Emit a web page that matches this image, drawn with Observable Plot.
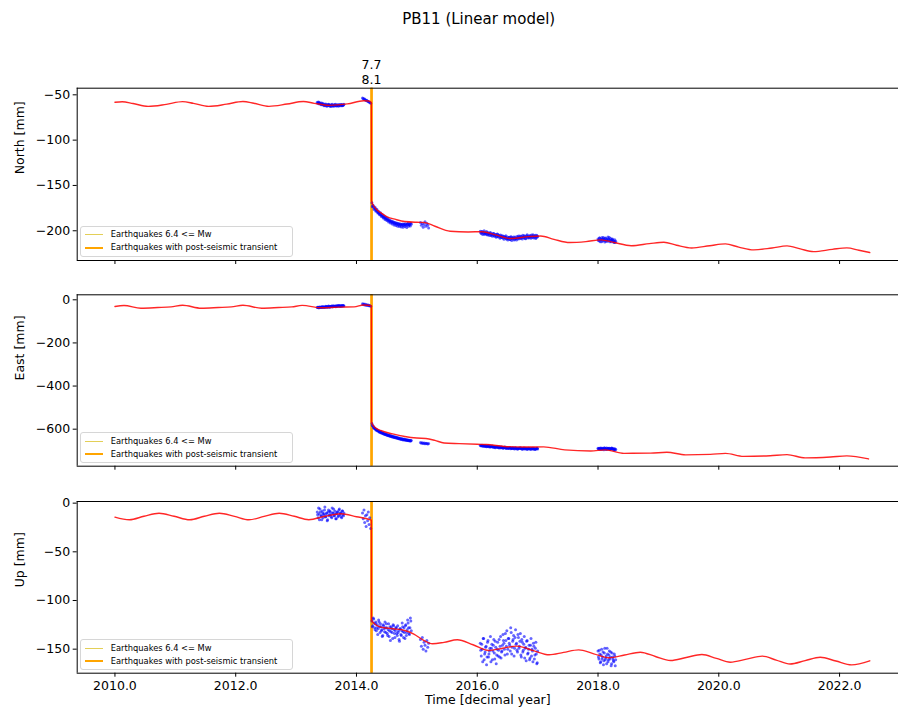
<!DOCTYPE html>
<html>
<head>
<meta charset="utf-8">
<script src="https://cdn.jsdelivr.net/npm/d3@7"></script>
<script src="https://cdn.jsdelivr.net/npm/@observablehq/plot@0.6"></script>
<style>
html, body { margin: 0; padding: 0; background: #fff; overflow: hidden; }
#fig { position: relative; width: 898px; height: 715px; font-family: "DejaVu Sans", sans-serif; color: #000; overflow: hidden; }
.panel { position: absolute; left: 0; width: 898px; overflow: hidden; }
.title { position: absolute; left: 378.7px; width: 200px; text-align: center; top: 9px; font-size: 15px; line-height: 20px; white-space: nowrap; }
.legend { position: absolute; left: 80.3px; width: 211px; height: 29px; border: 1px solid #d6d6d6; border-radius: 3px; background: rgba(255,255,255,0.8); font-size: 8.3px; }
.legend .sw { position: absolute; left: 4px; width: 17.5px; height: 0; }
.legend .lb { position: absolute; left: 29.5px; white-space: nowrap; line-height: 10px; }
</style>
</head>
<body>
<div id="fig"></div>
<script>
// ---------- data ----------
const xTicks = [2010, 2012, 2014, 2016, 2018, 2020, 2022];
const eqTimes = [2014.247, 2014.252];
const eqMagnitudes = ["7.7", "8.1"];
const legendLabels = ["Earthquakes 6.4 <= Mw", "Earthquakes with post-seismic transient"];
const panelLabels = ["North [mm]", "East [mm]", "Up [mm]"];
const xLabel = "Time [decimal year]";
const titleText = "PB11 (Linear model)";
const northTicks = [-200, -150, -100, -50];
const eastTicks = [-600, -400, -200, 0];
const upTicks = [-150, -100, -50, 0];

// model (red line)
const northModelTime = [2010.0, 2010.12, 2010.3, 2010.55, 2010.85, 2011.12, 2011.3, 2011.55, 2011.85, 2012.12, 2012.3, 2012.55, 2012.85, 2013.12, 2013.3, 2013.55, 2013.85, 2014.12, 2014.2, 2014.246,
  2014.248, 2014.3, 2014.4, 2014.5, 2014.65, 2014.8, 2015.0, 2015.12, 2015.3, 2015.55, 2015.85, 2016.08, 2016.3, 2016.55, 2016.85, 2017.05, 2017.27, 2017.53, 2017.8, 2018.05, 2018.27, 2018.55, 2018.85, 2019.09, 2019.3, 2019.55, 2019.85, 2020.11, 2020.33, 2020.58, 2020.88, 2021.13, 2021.35, 2021.57, 2021.88, 2022.12, 2022.32, 2022.5];
const northModel = [-58.2, -57.6, -59.6, -62.8, -60.5, -57.5, -59.4, -62.8, -60.3, -57.4, -59.3, -62.7, -60.2, -57.4, -59.4, -61.6, -60.0, -56.6, -56.8, -58.5,
  -167, -174, -180, -184.3, -187.5, -189.8, -190.6, -190.8, -195, -200.5, -201.3, -201, -204.5, -208.5, -206.5, -205.8, -209.5, -213, -212, -210, -213, -216.5, -214.2, -212.6, -216, -219, -216.5, -214.5, -218, -221.1, -219, -216.7, -220, -223, -220.5, -218.9, -221.5, -224];

const eastModelTime = [2010.0, 2010.15, 2010.43, 2010.71, 2010.93, 2011.12, 2011.43, 2011.71, 2011.93, 2012.12, 2012.43, 2012.71, 2012.93, 2013.1, 2013.42, 2013.7, 2013.96, 2014.12, 2014.246,
  2014.248, 2014.3, 2014.4, 2014.6, 2014.8, 2015.0, 2015.15, 2015.3, 2015.45, 2015.7, 2016.0, 2016.15, 2016.45, 2016.75, 2017.1, 2017.45, 2017.88, 2018.12, 2018.43, 2018.87, 2019.14, 2019.45, 2019.86, 2020.11, 2020.41, 2020.85, 2021.13, 2021.43, 2021.85, 2022.12, 2022.48];
const eastModel = [-31, -26.5, -39, -36, -32.6, -25, -39, -36, -33, -25, -39, -36, -33, -26, -37, -34, -33, -24, -27,
  -568, -590, -606, -622, -634, -641, -643, -652, -664, -667, -670, -671, -680, -683, -682, -696, -701, -696, -712, -711, -707, -719, -717, -712, -726, -723, -718, -733, -729, -724, -738];

const upModelTime = [2010.0, 2010.24, 2010.48, 2010.73, 2010.98, 2011.24, 2011.48, 2011.73, 2011.98, 2012.22, 2012.47, 2012.72, 2012.97, 2013.21, 2013.48, 2013.74, 2014.0, 2014.246,
  2014.248, 2014.4, 2014.6, 2014.8, 2014.95, 2015.1, 2015.26, 2015.45, 2015.67, 2015.93, 2016.19, 2016.42, 2016.66, 2016.93, 2017.19, 2017.43, 2017.68, 2017.93, 2018.18, 2018.44, 2018.7, 2018.95, 2019.2, 2019.46, 2019.72, 2019.96, 2020.19, 2020.46, 2020.72, 2020.95, 2021.18, 2021.43, 2021.68, 2021.94, 2022.2, 2022.5];
const upModel = [-14.4, -17.1, -13.5, -10.3, -13.5, -17.1, -13.5, -10.3, -13.6, -17.1, -13.6, -10.3, -13.5, -17, -13.5, -10.9, -14, -17.5,
  -120.5, -127.4, -129, -130.8, -134.5, -140.5, -144.5, -143, -140.4, -145.5, -151.4, -149, -146.9, -151.5, -155.8, -153.3, -150.7, -154.8, -158.9, -156, -153.1, -157.5, -161.7, -158.6, -155.5, -159.5, -163.4, -160.3, -157.2, -161.2, -165.3, -161.8, -158.3, -162.2, -166.1, -162];

// observations (blue dots), first pass of epochs
const obsTime = [
  2013.35, 2013.365, 2013.38, 2013.395, 2013.41, 2013.425, 2013.44, 2013.455, 2013.47, 2013.485, 2013.50, 2013.515, 2013.53, 2013.545, 2013.56, 2013.575, 2013.59, 2013.605, 2013.62, 2013.635, 2013.65, 2013.665, 2013.68, 2013.695, 2013.71, 2013.725, 2013.74, 2013.755, 2013.77, 2013.785,
  2014.10, 2014.112, 2014.124, 2014.136, 2014.148, 2014.16, 2014.172, 2014.184, 2014.196, 2014.208, 2014.22, 2014.235,
  2014.255, 2014.27, 2014.285, 2014.30, 2014.315, 2014.33, 2014.345, 2014.36, 2014.375, 2014.39, 2014.405, 2014.42, 2014.435, 2014.45, 2014.465, 2014.48, 2014.495, 2014.51, 2014.525, 2014.54, 2014.555, 2014.57, 2014.585, 2014.60, 2014.615, 2014.63, 2014.645, 2014.66, 2014.675, 2014.69, 2014.705, 2014.72, 2014.735, 2014.75, 2014.765, 2014.78, 2014.795, 2014.81, 2014.825, 2014.84, 2014.855, 2014.87, 2014.885, 2014.90,
  2015.06, 2015.075, 2015.09, 2015.105, 2015.12, 2015.135, 2015.15, 2015.165, 2015.18, 2015.195,
  2016.05, 2016.066, 2016.082, 2016.098, 2016.114, 2016.13, 2016.146, 2016.162, 2016.178, 2016.194, 2016.21, 2016.226, 2016.242, 2016.258, 2016.274, 2016.29, 2016.306, 2016.322, 2016.338, 2016.354, 2016.37, 2016.386, 2016.402, 2016.418, 2016.434, 2016.45, 2016.466, 2016.482, 2016.498, 2016.514, 2016.53, 2016.546, 2016.562, 2016.578, 2016.594, 2016.61, 2016.626, 2016.642, 2016.658, 2016.674, 2016.69, 2016.706, 2016.722, 2016.738, 2016.754, 2016.77, 2016.786, 2016.802, 2016.818, 2016.834, 2016.85, 2016.866, 2016.882, 2016.898, 2016.914, 2016.93, 2016.946, 2016.962, 2016.978, 2016.994,
  2018.00, 2018.015, 2018.03, 2018.045, 2018.06, 2018.075, 2018.09, 2018.105, 2018.12, 2018.135, 2018.15, 2018.165, 2018.18, 2018.195, 2018.21, 2018.225, 2018.24, 2018.255, 2018.27, 2018.285];
const obsNorth = [
  -58.1, -59.0, -58.4, -59.6, -60.2, -59.1, -60.8, -61.3, -60.5, -61.9, -60.9, -62.2, -61.4, -60.7, -62.5, -61.6, -61.0, -62.3, -61.7, -60.6, -61.8, -62.4, -61.2, -60.9, -61.9, -61.3, -62.1, -60.8, -61.5, -61.0,
  -53.5, -54.2, -55.0, -54.6, -55.8, -56.3, -56.0, -57.1, -57.5, -58.0, -58.6, -59.2,
  -169, -172, -174, -175.5, -176.2, -178, -178.4, -180, -180.6, -181.9, -182.3, -183.5, -183.9, -185.2, -185.4, -186.8, -186.5, -188, -187.9, -189.3, -189, -190.4, -189.8, -191.2, -190.5, -192.1, -191.3, -192.8, -191.9, -193.4, -192.5, -194, -192.7, -193.8, -192.4, -194.3, -193, -192.2, -193.9, -192.6, -191.8, -193.5, -192.3, -191.7,
  -191, -194, -192, -196, -193, -190, -195, -192, -194, -197,
  -200.5, -203.0, -201.2, -202.8, -199.9, -203.5, -202.1, -204.0, -201.8, -203.6, -202.5, -205.1, -203.3, -204.6, -202.9, -205.8, -204.1, -206.2, -203.8, -205.5, -206.9, -204.7, -207.3, -205.6, -208.1, -206.2, -207.7, -209.0, -206.8, -208.4, -207.2, -209.5, -206.5, -208.8, -207.9, -210.1, -207.0, -208.6, -206.3, -209.2, -207.5, -205.9, -208.3, -206.8, -204.9, -207.8, -206.0, -208.9, -205.4, -207.1, -205.8, -207.6, -206.2, -204.8, -207.3, -205.5, -206.9, -205.0, -207.4, -206.1,
  -209, -211, -208, -210, -212, -209, -207.5, -210.5, -208.5, -211.5, -209.5, -207, -210, -212, -208.5, -210.5, -209, -211, -212.5, -213];
const obsEast = [
  -36, -34, -37, -35, -33, -36, -34, -32, -35, -33, -31, -34, -32, -30, -33, -31, -29, -32, -30, -31, -29, -31, -28, -30, -27, -29, -28, -30, -27, -29,
  -18, -22, -20, -24, -21, -25, -23, -26, -24, -28, -26, -30,
  -574, -585, -592, -597, -600, -604, -606, -609, -611, -614, -615, -618, -619, -621, -623, -624, -626, -627, -629, -630, -631, -633, -634, -635, -636, -637, -639, -639, -641, -642, -643, -644, -645, -646, -647, -648, -648, -649, -650, -651, -651, -652, -653, -653,
  -662, -665, -663, -667, -664, -668, -665, -666, -669, -667,
  -674, -677, -675, -678, -676, -679, -677, -680, -678, -681, -679, -682, -680, -683, -681, -684, -682, -683, -685, -682, -684, -686, -683, -685, -687, -684, -686, -688, -685, -687, -689, -686, -688, -690, -687, -689, -686, -690, -688, -691, -689, -687, -690, -688, -692, -689, -691, -688, -690, -692, -689, -691, -693, -690, -688, -692, -690, -693, -691, -689,
  -688, -692, -690, -687, -693, -689, -691, -686, -690, -694, -688, -691, -689, -693, -690, -687, -692, -690, -694, -696];
const obsUp = [
  -9, -15, -11, -6, -13, -17, -10, -12, -7, -14, -11, -18, -9, -13, -8, -12, -15, -10, -6, -13, -11, -16, -9, -14, -7, -12, -10, -15, -8, -13,
  -10, -16, -7, -20, -13, -24, -12, -18, -9, -22, -15, -26,
  -121, -126, -119, -128, -124, -131, -125, -129, -122, -133, -127, -130, -136, -126, -132, -128, -124, -134, -130, -137, -127, -132, -129, -139, -126, -134, -131, -128, -136, -133, -140, -129, -135, -131, -127, -138, -133, -126, -136, -130, -123, -134, -128, -121,
  -140, -147, -138, -150, -143, -146, -152, -141, -148, -144,
  -144, -157, -150, -139, -161, -153, -147, -158, -141, -155, -149, -163, -145, -152, -140, -160, -148, -156, -143, -151, -158, -137, -153, -146, -141, -150, -134, -147, -155, -139, -144, -152, -133, -148, -140, -157, -138, -145, -151, -135, -149, -142, -156, -140, -153, -145, -159, -148, -142, -155, -150, -161, -146, -157, -152, -144, -160, -149, -155, -164,
  -152, -160, -155, -163, -150, -158, -166, -154, -161, -157, -149, -163, -156, -160, -153, -165, -158, -162, -155, -167];

// observations, second pass of epochs
const obsTime2 = [
  2013.357, 2013.372, 2013.387, 2013.402, 2013.417, 2013.432, 2013.447, 2013.462, 2013.477, 2013.492, 2013.507, 2013.522, 2013.537, 2013.552, 2013.567, 2013.582, 2013.597, 2013.612, 2013.627, 2013.642, 2013.657, 2013.672, 2013.687, 2013.702, 2013.717, 2013.732, 2013.747, 2013.762, 2013.777, 2013.792,
  2014.262, 2014.277, 2014.292, 2014.307, 2014.322, 2014.337, 2014.352, 2014.367, 2014.382, 2014.397, 2014.412, 2014.427, 2014.442, 2014.457, 2014.472, 2014.487, 2014.502, 2014.517, 2014.532, 2014.547, 2014.562, 2014.577, 2014.592, 2014.607, 2014.622, 2014.637, 2014.652, 2014.667, 2014.682, 2014.697, 2014.712, 2014.727, 2014.742, 2014.757, 2014.772, 2014.787, 2014.802, 2014.817, 2014.832, 2014.847, 2014.862, 2014.877, 2014.892, 2014.907,
  2016.058, 2016.074, 2016.09, 2016.106, 2016.122, 2016.138, 2016.154, 2016.17, 2016.186, 2016.202, 2016.218, 2016.234, 2016.25, 2016.266, 2016.282, 2016.298, 2016.314, 2016.33, 2016.346, 2016.362, 2016.378, 2016.394, 2016.41, 2016.426, 2016.442, 2016.458, 2016.474, 2016.49, 2016.506, 2016.522, 2016.538, 2016.554, 2016.57, 2016.586, 2016.602, 2016.618, 2016.634, 2016.65, 2016.666, 2016.682, 2016.698, 2016.714, 2016.73, 2016.746, 2016.762, 2016.778, 2016.794, 2016.81, 2016.826, 2016.842, 2016.858, 2016.874, 2016.89, 2016.906, 2016.922, 2016.938, 2016.954, 2016.97, 2016.986, 2017.0,
  2018.007, 2018.022, 2018.037, 2018.052, 2018.067, 2018.082, 2018.097, 2018.112, 2018.127, 2018.142, 2018.157, 2018.172, 2018.187, 2018.202, 2018.217, 2018.232, 2018.247, 2018.262, 2018.277, 2018.292];
const obsNorth2 = [
  -59.3, -58.0, -60.1, -59.0, -61.0, -60.3, -59.5, -62.0, -61.1, -60.2, -62.6, -61.0, -60.4, -62.0, -61.3, -62.8, -60.3, -61.5, -62.6, -61.1, -60.3, -62.0, -61.6, -62.7, -60.6, -61.4, -60.7, -62.2, -61.9, -60.5,
  -173.5, -172, -176.5, -174, -178.5, -176.3, -180.5, -178.6, -182.4, -180.2, -184.3, -182, -185.8, -183.7, -187.5, -185.1, -188.6, -186.4, -190.2, -188, -191.3, -189.1, -192.4, -190, -193.5, -190.8, -194.2, -191.5, -195, -192.1, -195.3, -192.6, -195.8, -193.1, -196.1, -192.5, -195.4, -193.6, -196.5, -192.9, -195.1, -193.3, -194.6, -192.8,
  -202.2, -200.8, -204.1, -201.5, -203.9, -202.6, -200.9, -204.8, -203.0, -205.3, -201.9, -204.2, -206.0, -203.1, -205.9, -204.4, -207.1, -203.6, -206.6, -205.0, -208.2, -205.9, -207.5, -206.1, -209.3, -207.0, -205.6, -208.9, -210.2, -207.3, -209.7, -206.9, -210.6, -208.1, -206.8, -209.4, -208.2, -210.3, -207.6, -205.8, -208.7, -207.9, -206.1, -209.1, -207.2, -205.6, -208.4, -206.9, -204.5, -208.0, -206.6, -205.1, -208.2, -206.5, -204.3, -207.9, -205.7, -208.5, -204.9, -206.7,
  -210.5, -208, -212, -209.5, -207.5, -211, -209, -212.5, -208, -210, -211.5, -209, -207.5, -210.5, -212, -209.5, -211, -213, -210, -211.5];
const obsEast2 = [
  -35, -37, -33, -36, -34, -31, -35, -33, -34, -30, -33, -32, -29, -34, -31, -30, -32, -28, -31, -29, -32, -28, -30, -26, -29, -31, -27, -29, -26, -28,
  -582, -586, -596, -596, -604, -602, -609, -607, -614, -611, -618, -615, -621, -619, -625, -622, -628, -625, -631, -628, -634, -631, -636, -633, -639, -635, -641, -638, -643, -640, -646, -642, -648, -644, -650, -646, -651, -648, -653, -649, -654, -651, -656, -652,
  -677, -674, -679, -676, -680, -677, -682, -679, -676, -681, -683, -680, -678, -684, -681, -686, -683, -680, -685, -687, -683, -686, -684, -688, -685, -683, -689, -686, -690, -687, -685, -691, -688, -686, -690, -692, -687, -689, -693, -688, -690, -686, -691, -693, -689, -687, -692, -690, -694, -689, -691, -688, -693, -690, -692, -689, -694, -691, -688, -692,
  -691, -689, -694, -688, -692, -690, -695, -689, -692, -687, -693, -690, -688, -694, -691, -689, -693, -695, -691, -693];
const obsUp2 = [
  -12, -5, -17, -9, -13, -8, -15, -11, -4, -14, -10, -17, -7, -12, -9, -14, -5, -10, -13, -8, -16, -11, -9, -13, -6, -10, -14, -8, -12, -10,
  -127, -118, -123, -130, -122, -128, -135, -120, -127, -124, -131, -137, -125, -129, -122, -133, -128, -136, -124, -131, -141, -127, -133, -125, -130, -138, -128, -134, -126, -131, -142, -129, -136, -123, -132, -128, -139, -125, -133, -120, -128, -135, -118, -131,
  -151, -145, -163, -139, -155, -148, -166, -143, -158, -152, -137, -149, -161, -146, -154, -142, -165, -150, -157, -140, -147, -159, -152, -135, -144, -156, -141, -131, -150, -139, -146, -128, -155, -142, -136, -149, -130, -144, -153, -138, -147, -134, -158, -143, -151, -137, -149, -162, -141, -154, -146, -159, -139, -150, -163, -147, -156, -143, -165, -152,
  -158, -151, -164, -156, -160, -153, -162, -149, -159, -165, -155, -161, -152, -158, -167, -154, -160, -163, -157, -161];

// ---------- layout ----------
const fig = document.getElementById("fig");
const xDomain = [2009.375, 2023.125];
const xRange = [76.7, 907];

const title = document.createElement("div");
title.className = "title";
title.textContent = titleText;
fig.appendChild(title);

function makePanel(opt) {
  const model = opt.modelT.map((t, i) => ({t, v: opt.modelV[i]}));
  const obs = obsTime.map((t, i) => ({t, v: opt.obsV[i]}))
    .concat(obsTime2.map((t, i) => ({t, v: opt.obsV2[i]})));
  const marks = [
    Plot.ruleX(eqTimes, {x: d => d, stroke: "orange", strokeWidth: 2.2}),
    Plot.dot(obs, {x: "t", y: "v", r: 1.5, fill: "blue", fillOpacity: 0.6, stroke: null}),
    Plot.line(model, {x: "t", y: "v", stroke: "red", strokeWidth: 1.4, strokeOpacity: 0.85, curve: "monotone-x"}),
    // spines: top, bottom, left (right spine lies beyond the picture)
    Plot.ruleY([opt.yDomain[0], opt.yDomain[1]], {y: d => d, stroke: "#000", strokeWidth: 1}),
    Plot.ruleX([xDomain[0]], {x: d => d, stroke: "#000", strokeWidth: 1}),
    Plot.axisY({ticks: opt.yTicks, tickSize: 4, tickPadding: 3, label: null}),
    Plot.axisX({ticks: xTicks, tickSize: 4, tickPadding: 4, label: null,
      tickFormat: opt.xLabels ? (d => d.toFixed(1)) : (() => "")}),
    Plot.text([opt.label], {frameAnchor: "left", rotate: -90, dx: -57.2, text: d => d})
  ];
  if (opt.eqLabels) {
    marks.push(Plot.text([eqMagnitudes.join("\n")], {x: eqTimes[0], frameAnchor: "top", lineAnchor: "bottom", dy: -4.5, lineHeight: 1.2, text: d => d}));
  }
  if (opt.xLabels) {
    marks.push(Plot.text([xLabel], {frameAnchor: "bottom", dy: 30.5, text: d => d}));
  }
  const p = Plot.plot({
    width: 898,
    height: opt.height,
    marginTop: opt.mt,
    marginBottom: opt.mb,
    marginLeft: 76.7,
    marginRight: 0,
    x: {domain: xDomain, range: xRange},
    y: {domain: opt.yDomain},
    style: {fontFamily: "DejaVu Sans", fontSize: "12.5px", color: "#000", background: "transparent", overflow: "hidden"},
    marks
  });
  const wrap = document.createElement("div");
  wrap.className = "panel";
  wrap.style.top = opt.top + "px";
  wrap.appendChild(p);
  fig.appendChild(wrap);

  // legend
  const lg = document.createElement("div");
  lg.className = "legend";
  lg.style.top = opt.legendTop + "px";
  const colors = ["#e3cf57", "orange"];
  const widths = [1, 2];
  const ys = [8.3, 21];
  legendLabels.forEach((txt, i) => {
    const sw = document.createElement("div");
    sw.className = "sw";
    sw.style.top = (ys[i] - widths[i] / 2) + "px";
    sw.style.borderTop = widths[i] + "px solid " + colors[i];
    lg.appendChild(sw);
    const lb = document.createElement("div");
    lb.className = "lb";
    lb.style.top = (ys[i] - 5.5) + "px";
    lb.textContent = txt;
    lg.appendChild(lb);
  });
  fig.appendChild(lg);
}

makePanel({top: 45, height: 230, mt: 42.7, mb: 15, yDomain: [-232.8, -42.7], yTicks: northTicks, label: panelLabels[0],
  modelT: northModelTime, modelV: northModel, obsV: obsNorth, obsV2: obsNorth2, xLabels: false, eqLabels: true, legendTop: 225.7});
makePanel({top: 275, height: 200, mt: 19.3, mb: 9.3, yDomain: [-771.7, 23.2], yTicks: eastTicks, label: panelLabels[1],
  modelT: eastModelTime, modelV: eastModel, obsV: obsEast, obsV2: obsEast2, xLabels: false, eqLabels: false, legendTop: 432.3});
makePanel({top: 480, height: 235, mt: 21, mb: 42.3, yDomain: [-174.7, 1.7], yTicks: upTicks, label: panelLabels[2],
  modelT: upModelTime, modelV: upModel, obsV: obsUp, obsV2: obsUp2, xLabels: true, eqLabels: false, legendTop: 639});
</script>
</body>
</html>
